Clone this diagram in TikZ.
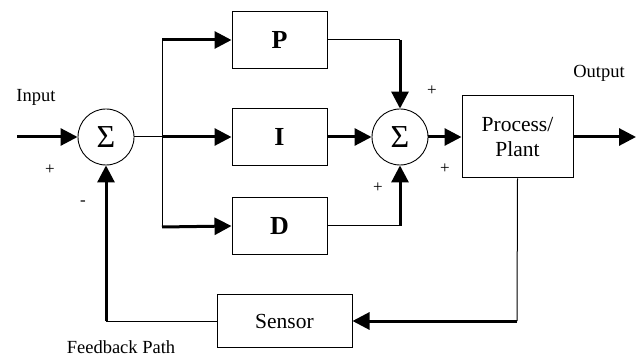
\documentclass[tikz,border=0pt]{standalone}
\usepackage{fontspec}
\setmainfont{Liberation Serif}
\usetikzlibrary{arrows.meta}
\begin{document}
\begin{tikzpicture}[x=1pt,y=-1pt,
  blk/.style={draw,line width=1pt,minimum width=95pt,minimum height=57pt,inner sep=0pt,font=\fontsize{26}{26}\selectfont\bfseries},
  bigblk/.style={draw,line width=1pt,inner sep=0pt,font=\fontsize{21.5}{25}\selectfont,align=center},
  sumc/.style={draw,circle,line width=0.9pt,minimum size=56pt,inner sep=0pt,font=\fontsize{32}{32}\selectfont},
  lbl/.style={font=\fontsize{18.5}{18.5}\selectfont,inner sep=0pt},
  sgn/.style={font=\fontsize{17}{17}\selectfont,inner sep=0pt},
  thk/.style={line width=3pt},
  thn/.style={line width=1pt},
  arr/.style={thk,-{Triangle[length=17pt,width=17pt]}}]
\useasboundingbox (0,0) rectangle (640,358);
\node[sumc] (s1) at (106,137) {Σ};
\node[sumc] (s2) at (400,137) {Σ};
\node[blk] (P) at (279.5,40) {P};
\node[blk] (I) at (279.5,137) {I};
\node[blk] (D) at (279.5,226) {D};
\node[bigblk,minimum width=111pt,minimum height=82pt] (pl) at (517.5,137) {Process/\\Plant};
\node[bigblk,minimum width=135pt,minimum height=53pt] (se) at (284.5,321) {Sensor};
\coordinate (in) at (17,137);
\coordinate (out) at (636,137);
\coordinate (sp) at (162,137);
\coordinate (spt) at (162,40);
\coordinate (spb) at (162,227);
\coordinate (pc) at (400,40);
\coordinate (dc) at (400,226);
\coordinate (plc) at (517,321);
\coordinate (fbc) at (106,321);
% forward path
\draw[arr] (in) -- (s1.west);
\draw[thn] (s1.east) -- (sp);
\draw[thn] (spt) -- (spb);
\draw[arr] (sp) -- (I.west);
\draw[arr] (spt) -- (P.west);
\draw[arr] (spb) -- (D.west);
\draw[thn] (P.east) -- (pc);
\draw[arr] (pc) -- (s2.north);
\draw[thn] (D.east) -- (dc);
\draw[arr] (dc) -- (s2.south);
\draw[arr] (I.east) -- (s2.west);
\draw[arr] (s2.east) -- (pl.west);
\draw[arr] (pl.east) -- (out);
% feedback
\draw[thn] (pl.south) -- (plc);
\draw[arr] (plc) -- (se.east);
\draw[thn] (se.west) -- (fbc);
\draw[arr] (fbc) -- (s1.south);
% labels
\node[lbl] (linput) at (36,97) {Input};
\node[lbl] (loutput) at (599,73) {Output};
\node[lbl] (lfb) at (121,347) {Feedback Path};
\node[sgn] (p1) at (50,170) {+};
\node[sgn] (m1) at (83,203) {-};
\node[sgn] (p2) at (432,91) {+};
\node[sgn] (p3) at (445,169) {+};
\node[sgn] (p4) at (378,188) {+};
\end{tikzpicture}
\end{document}
